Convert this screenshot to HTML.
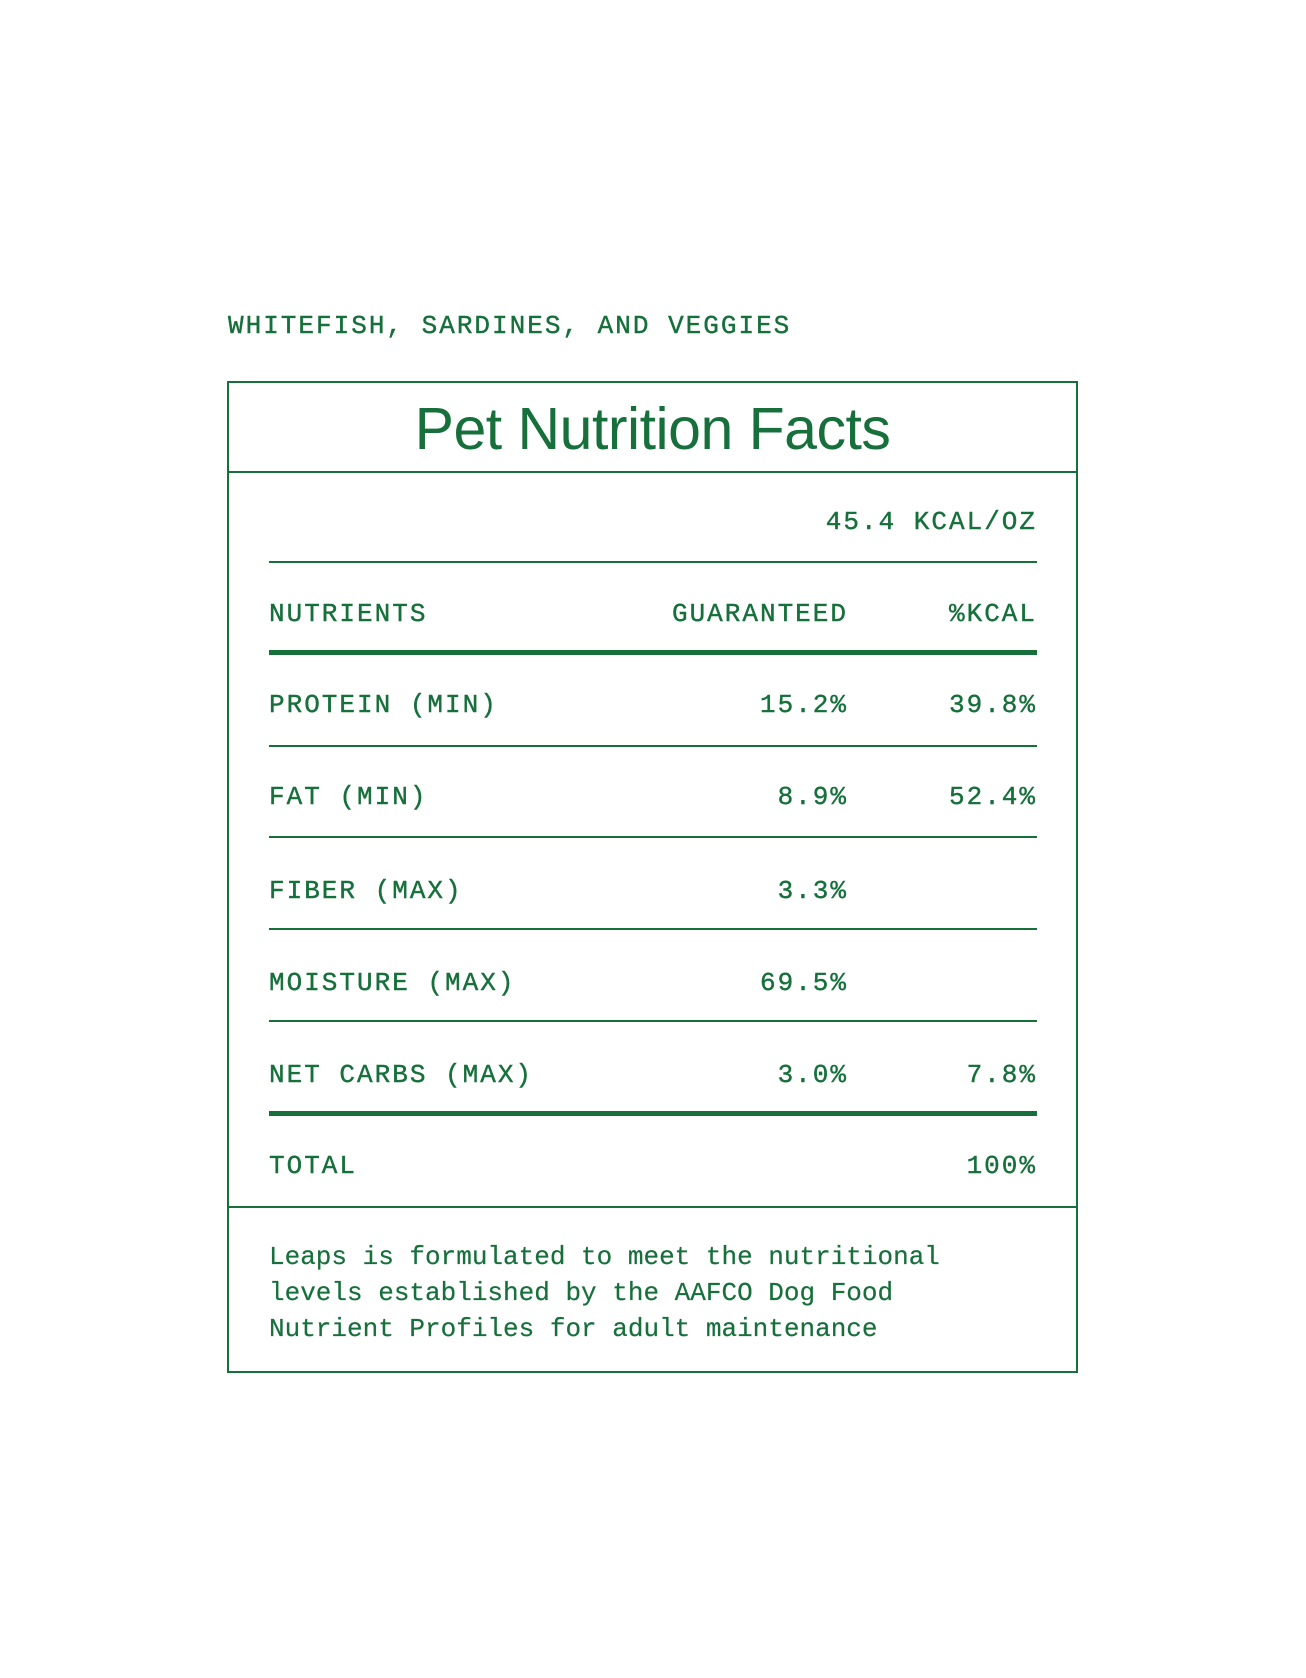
<!DOCTYPE html>
<html><head><meta charset="utf-8"><style>
body{margin:0;width:1306px;height:1678px;background:#fff;position:relative;overflow:hidden;font-family:"Liberation Mono",monospace;color:#17703c}
.t{position:absolute;font-size:26px;line-height:26px;letter-spacing:2px;white-space:nowrap;-webkit-text-stroke:0.4px #17703c}
.r{text-align:right}
.l{position:absolute;left:269px;width:768px;background:#17703c}
</style></head><body>
<div class="t" style="left:228px;top:313px">WHITEFISH, SARDINES, AND VEGGIES</div>
<div style="position:absolute;left:227px;top:381px;width:847px;height:988px;border:2px solid #17703c"></div>
<div style="position:absolute;left:227px;top:471px;width:851px;height:2px;background:#17703c"></div>
<div style="position:absolute;left:227px;top:395px;width:851px;text-align:center;font-family:'Liberation Sans',sans-serif;font-size:59px;line-height:68px;letter-spacing:-0.5px">Pet Nutrition Facts</div>
<div class="t r" style="right:269px;top:509px">45.4 KCAL/OZ</div>
<div class="l" style="top:561px;height:2px"></div>
<div class="t" style="left:269px;top:601px">NUTRIENTS</div>
<div class="t r" style="right:458px;top:601px">GUARANTEED</div>
<div class="t r" style="right:269px;top:601px">%KCAL</div>
<div class="l" style="top:650px;height:5px"></div>

<div class="t" style="left:269px;top:692px">PROTEIN (MIN)</div>
<div class="t r" style="right:458px;top:692px">15.2%</div>
<div class="t r" style="right:269px;top:692px">39.8%</div>
<div class="l" style="top:745px;height:2px"></div>

<div class="t" style="left:269px;top:784px">FAT (MIN)</div>
<div class="t r" style="right:458px;top:784px">8.9%</div>
<div class="t r" style="right:269px;top:784px">52.4%</div>
<div class="l" style="top:836px;height:2px"></div>

<div class="t" style="left:269px;top:878px">FIBER (MAX)</div>
<div class="t r" style="right:458px;top:878px">3.3%</div>
<div class="l" style="top:928px;height:2px"></div>

<div class="t" style="left:269px;top:970px">MOISTURE (MAX)</div>
<div class="t r" style="right:458px;top:970px">69.5%</div>
<div class="l" style="top:1020px;height:2px"></div>

<div class="t" style="left:269px;top:1062px">NET CARBS (MAX)</div>
<div class="t r" style="right:458px;top:1062px">3.0%</div>
<div class="t r" style="right:269px;top:1062px">7.8%</div>
<div class="l" style="top:1111px;height:5px"></div>

<div class="t" style="left:269px;top:1153px">TOTAL</div>
<div class="t r" style="right:269px;top:1153px">100%</div>
<div style="position:absolute;left:227px;top:1206px;width:851px;height:2px;background:#17703c"></div>

<div style="position:absolute;left:269px;top:1239px;font-size:26px;line-height:36px;white-space:nowrap;-webkit-text-stroke:0.2px #17703c">Leaps is formulated to meet the nutritional<br>levels established by the AAFCO Dog Food<br>Nutrient Profiles for adult maintenance</div>
</body></html>
